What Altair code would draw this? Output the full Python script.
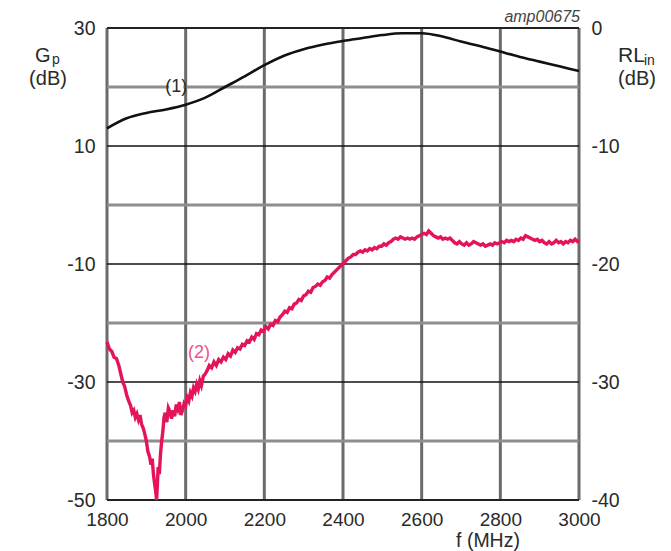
import altair as alt
import pandas as pd

# ---- data ----
F_GP = [1800, 1850, 1900, 1950, 2000, 2050, 2100, 2150, 2200, 2250, 2300, 2350, 2400,
        2450, 2500, 2550, 2600, 2650, 2700, 2750, 2800, 2850, 2900, 2950, 3000]
GP = [13.0, 14.7, 15.6, 16.2, 17.0, 18.2, 20.0, 21.8, 23.7, 25.3, 26.4, 27.2, 27.8,
      28.3, 28.8, 29.1, 29.1, 28.6, 27.7, 26.9, 26.0, 25.1, 24.3, 23.5, 22.7]

F_RL = [1800, 1806, 1812, 1818, 1824, 1830, 1835, 1840, 1845, 1850, 1855, 1860, 1864, 1868,
        1872, 1876, 1880, 1884, 1888, 1892, 1896, 1900, 1904, 1908, 1912, 1915, 1918, 1921,
        1924, 1926, 1928, 1930, 1933, 1936, 1939, 1942, 1945, 1948, 1952, 1956, 1960, 1964,
        1968, 1972, 1976, 1980, 1984, 1988, 1992, 1996, 2000, 2004, 2008, 2012, 2016, 2020,
        2024, 2028, 2032, 2036, 2040, 2045, 2050, 2055, 2060, 2066, 2072, 2078, 2084, 2090,
        2096, 2102, 2108, 2114, 2120, 2126, 2132, 2138, 2144, 2150, 2156, 2162, 2168, 2174,
        2180, 2186, 2192, 2198, 2204, 2210, 2216, 2222, 2228, 2234, 2240, 2246, 2252, 2258,
        2264, 2270, 2276, 2282, 2288, 2294, 2300, 2306, 2312, 2318, 2324, 2330, 2336, 2342,
        2348, 2354, 2360, 2366, 2372, 2378, 2384, 2390, 2396, 2402, 2408, 2414, 2420, 2426,
        2432, 2438, 2444, 2450, 2456, 2462, 2468, 2474, 2480, 2486, 2492, 2498, 2504, 2510,
        2516, 2522, 2528, 2534, 2540, 2546, 2552, 2558, 2564, 2570, 2576, 2582, 2588, 2594,
        2600, 2606, 2612, 2618, 2624, 2630, 2636, 2642, 2648, 2654, 2660, 2666, 2672, 2678,
        2684, 2690, 2696, 2702, 2708, 2714, 2720, 2726, 2732, 2738, 2744, 2750, 2756, 2762,
        2768, 2774, 2780, 2786, 2792, 2798, 2804, 2810, 2816, 2822, 2828, 2834, 2840, 2846,
        2852, 2858, 2864, 2870, 2876, 2882, 2888, 2894, 2900, 2906, 2912, 2918, 2924, 2930,
        2936, 2942, 2948, 2954, 2960, 2966, 2972, 2978, 2984, 2990, 2996, 3000]
RL = [-26.6, -27.2, -27.4, -27.9, -28.0, -28.6, -29.3, -30.0, -30.4, -31.1, -31.6, -32.0, -32.6, -32.4,
      -33.0, -32.7, -33.2, -32.8, -33.6, -33.9, -34.4, -35.0, -35.9, -36.3, -37.0, -36.5, -37.8, -38.6,
      -39.3, -40.0, -38.8, -37.2, -37.8, -36.1, -35.0, -34.2, -33.0, -32.6, -33.4, -32.2, -32.5, -33.1,
      -32.4, -32.9, -31.9, -32.3, -31.7, -32.8, -32.4, -31.8, -32.0, -31.3, -31.6, -30.9, -31.2, -30.5,
      -30.8, -30.2, -30.6, -29.9, -30.3, -29.5, -29.3, -29.0, -28.6, -28.8, -28.3, -28.6, -28.1, -28.3,
      -27.9, -28.1, -27.6, -27.8, -27.3, -27.5, -27.1, -27.2, -26.8, -26.9, -26.5, -26.6, -26.2, -26.4,
      -25.9, -26.0, -25.6, -25.7, -25.3, -25.5, -25.1, -25.2, -24.8, -24.9, -24.5, -24.3, -24.0, -24.1,
      -23.7, -23.8, -23.4, -23.3, -23.0, -23.1, -22.7, -22.6, -22.3, -22.4, -22.0, -21.9, -21.7, -21.8,
      -21.5, -21.4, -21.1, -21.2, -20.9, -20.7, -20.5, -20.3, -20.1, -19.9, -19.7, -19.5, -19.4, -19.2,
      -19.2, -19.0, -18.9, -19.0, -18.8, -18.9, -18.7, -18.8, -18.6, -18.7, -18.5, -18.5, -18.3, -18.4,
      -18.2, -18.1, -17.9, -17.8, -17.9, -17.7, -17.8, -17.9, -17.8, -17.9, -17.8, -17.9, -17.7, -17.6,
      -17.5, -17.4, -17.5, -17.2, -17.4, -17.6, -17.7, -17.8, -17.7, -17.9, -17.8, -17.9, -17.8, -18.0,
      -18.2, -18.3, -18.1, -18.3, -18.4, -18.2, -18.4, -18.3, -18.1, -18.2, -18.3, -18.4, -18.3, -18.5,
      -18.4, -18.3, -18.4, -18.2, -18.3, -18.2, -18.1, -18.2, -18.0, -18.1, -18.0, -18.1, -17.9, -18.0,
      -17.8, -17.9, -17.6, -17.7, -17.8, -17.9, -18.0, -17.9, -18.1, -18.0, -18.2, -18.3, -18.1, -18.3,
      -18.2, -18.0, -18.2, -18.1, -18.3, -18.1, -18.2, -18.0, -18.1, -17.9, -18.1, -18.0]

X_TICKS = [1800, 2000, 2200, 2400, 2600, 2800, 3000]
X_GRID = [1800, 2000, 2200, 2400, 2600, 2800, 3000]
GP_TICKS = [30, 10, -10, -30, -50]
GP_MINOR = [20, 0, -20, -40]
GP_MAJOR = [10, -10, -30]
GP_FRAME = [30, -50]
RL_TICKS = [0, -10, -20, -30, -40]

FONT = "Liberation Sans"
TXT = "#2a2a2a"
PINK = "#E3145C"

gp_df = pd.DataFrame({"f": F_GP, "gp": GP})
rl_df = pd.DataFrame({"f": F_RL, "rl": RL})

xscale = alt.Scale(domain=[1800, 3000], nice=False, zero=False)
gpscale = alt.Scale(domain=[-50, 30], nice=False, zero=False)
rlscale = alt.Scale(domain=[-40, 0], nice=False, zero=False)

# identical x axis on every layer so the shared axis merges cleanly
x_axis = alt.Axis(values=X_TICKS, orient="bottom", grid=False, ticks=False, domain=False,
                  title=None, labelFontSize=19, labelFont=FONT, labelColor=TXT,
                  labelPadding=10, labelFlush=False, labelOverlap=False,
                  labelExpr="datum.value + ''")

vgrid = alt.Chart(pd.DataFrame({"f": X_GRID})).mark_rule(color="#6b6b6b", strokeWidth=3).encode(
    x=alt.X("f:Q", scale=xscale, axis=x_axis))
hminor = alt.Chart(pd.DataFrame({"v": GP_MINOR})).mark_rule(color="#8e8e8e", strokeWidth=3).encode(
    y=alt.Y("v:Q", scale=gpscale, axis=None))
hmajor = alt.Chart(pd.DataFrame({"v": GP_MAJOR})).mark_rule(color="#111111", strokeWidth=1.6).encode(
    y=alt.Y("v:Q", scale=gpscale, axis=None))
hframe = alt.Chart(pd.DataFrame({"v": GP_FRAME})).mark_rule(color="#222222", strokeWidth=2).encode(
    y=alt.Y("v:Q", scale=gpscale, axis=None))

gp_line = alt.Chart(gp_df).mark_line(color="#111111", strokeWidth=2.6, interpolate="monotone").encode(
    x=alt.X("f:Q", scale=xscale, axis=x_axis),
    y=alt.Y("gp:Q", scale=gpscale,
            axis=alt.Axis(values=GP_TICKS, orient="left", grid=False, ticks=False, domain=False,
                          title=None, labelFontSize=19.5, labelFont=FONT, labelColor=TXT,
                          labelPadding=12, labelExpr="datum.value + ''")))

one = alt.Data(values=[{}])
lab1_bg = alt.Chart(one).mark_rect(color="white").encode(
    x=alt.datum(1958, scale=xscale, axis=x_axis), x2=alt.datum(1994),
    y=alt.datum(18.7, scale=gpscale, axis=None), y2=alt.datum(21.3))
lab1 = alt.Chart(one).mark_text(font=FONT, fontSize=18, color=TXT, align="center",
                                baseline="middle").encode(
    x=alt.datum(1976, scale=xscale, axis=x_axis), y=alt.datum(20, scale=gpscale, axis=None),
    text=alt.value("(1)"))

rl_line = alt.Chart(rl_df).mark_line(color=PINK, strokeWidth=3.4).encode(
    x=alt.X("f:Q", scale=xscale, axis=x_axis),
    y=alt.Y("rl:Q", scale=rlscale,
            axis=alt.Axis(values=RL_TICKS, orient="right", grid=False, ticks=False, domain=False,
                          title=None, labelFontSize=19.5, labelFont=FONT, labelColor=TXT,
                          labelPadding=12, labelExpr="datum.value + ''")))
lab2 = alt.Chart(one).mark_text(font=FONT, fontSize=18, color="#F0508A", align="center",
                                baseline="middle").encode(
    x=alt.datum(2034, scale=xscale, axis=x_axis), y=alt.datum(-27.5, scale=rlscale, axis=None),
    text=alt.value("(2)"))


def txt(s, x, y, size=20, align="left", style="normal", color=TXT, baseline="alphabetic"):
    return alt.Chart(one).mark_text(font=FONT, fontSize=size, color=color, align=align,
                                    baseline=baseline, fontStyle=style).encode(
        x=alt.value(x), y=alt.value(y), text=alt.value(s))


annots = [
    txt("G", -72, 34),
    txt("p", -55, 36, size=14),
    txt("(dB)", -59, 57, align="center"),
    txt("RL", 511, 34, size=21),
    txt("in", 537, 37, size=14),
    txt("(dB)", 530, 57, align="center"),
    txt("amp00675", 473, -19, size=16, align="right", style="italic", color="#444444",
        baseline="top"),
    txt("f (MHz)", 381, 519, size=19.5, align="center"),
]

chart = alt.layer(vgrid, hminor, hmajor, hframe, gp_line, lab1_bg, lab1, rl_line, lab2,
                  *annots).resolve_scale(y="independent").properties(
    width=472, height=472,
    autosize=alt.AutoSizeParams(type="none"),
    padding={"left": 99, "top": 20, "right": 84, "bottom": 51},
    background="white",
).configure_view(stroke=None)

chart.save("out.html", embed_options={"renderer": "svg", "actions": False})
